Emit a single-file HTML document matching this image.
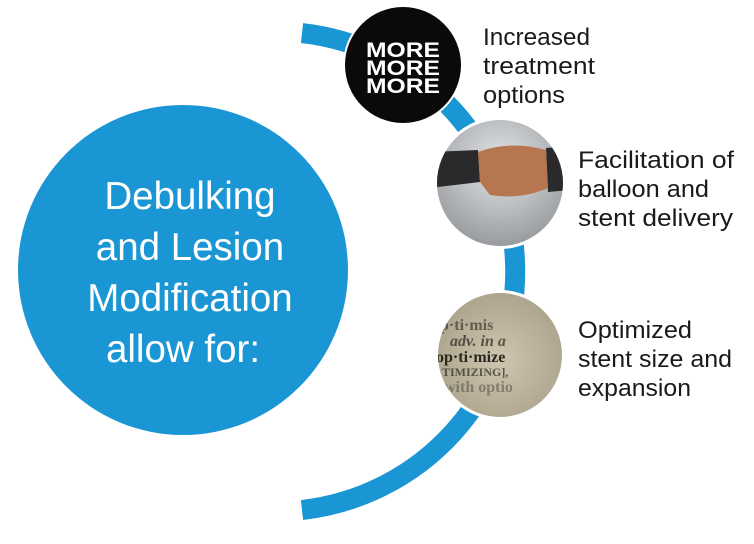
<!DOCTYPE html>
<html><head><meta charset="utf-8"><style>
html,body{margin:0;padding:0;background:#fff;width:754px;height:544px;overflow:hidden}
svg{display:block}
</style></head><body>
<svg width="754" height="544" viewBox="0 0 754 544" xmlns="http://www.w3.org/2000/svg">
<defs>
<radialGradient id="hs" cx="50%" cy="35%" r="70%"><stop offset="0" stop-color="#e4e6e8"/><stop offset="1" stop-color="#8a8d90"/></radialGradient>
<radialGradient id="dc" cx="50%" cy="50%" r="60%"><stop offset="0" stop-color="#cfc6b0"/><stop offset="1" stop-color="#a59c86"/></radialGradient>
<clipPath id="c2"><circle cx="500" cy="183" r="63"/></clipPath>
<clipPath id="c3"><circle cx="500" cy="355" r="62"/></clipPath>
</defs>
<path d="M302 33 A240 240 0 0 1 302 510" fill="none" stroke="#1a96d4" stroke-width="20"/>
<circle cx="183" cy="270" r="165" fill="#1a96d4"/>
<g font-family="Liberation Sans, sans-serif" font-size="38.5" fill="#fff" text-anchor="middle">
<text x="190" y="209">Debulking</text>
<text x="190" y="260">and Lesion</text>
<text x="190" y="311">Modification</text>
<text x="183" y="362">allow for:</text>
</g>
<circle cx="403" cy="65" r="60" fill="#fff"/>
<circle cx="403" cy="65" r="58" fill="#0a0a0a"/>
<g font-family="Liberation Sans, sans-serif" font-weight="bold" font-size="21" fill="#fff" text-anchor="middle">
<text x="403" y="57" textLength="74" lengthAdjust="spacingAndGlyphs">MORE</text>
<text x="403" y="75" textLength="74" lengthAdjust="spacingAndGlyphs">MORE</text>
<text x="403" y="93" textLength="74" lengthAdjust="spacingAndGlyphs">MORE</text>
</g>
<circle cx="500" cy="183" r="66" fill="#fff"/>
<g clip-path="url(#c2)">
<rect x="430" y="115" width="140" height="140" fill="url(#hs)"/>
<path d="M430 152 L478 150 L480 182 L430 188Z" fill="#2a2a2c"/>
<path d="M546 148 L570 146 L570 190 L548 192Z" fill="#2a2a2c"/>
<path d="M478 152 Q510 140 546 150 L548 188 Q520 200 490 195 L480 182Z" fill="#b57650"/>
</g>
<circle cx="500" cy="355" r="65" fill="#fff"/>
<g clip-path="url(#c3)">
<rect x="430" y="290" width="140" height="140" fill="url(#dc)"/>
<g font-family="Liberation Serif, serif" font-weight="bold" fill="#2a2620" font-size="16">
<text x="440" y="330" opacity="0.6">p·ti·mis</text>
<text x="450" y="346" font-style="italic" opacity="0.7">adv. in a</text>
<text x="436" y="362">op·ti·mize</text>
<text x="442" y="376" font-size="12" opacity="0.7">TIMIZING],</text>
<text x="444" y="392" opacity="0.4">with optio</text>
</g>
</g>
<g font-family="Liberation Sans, sans-serif" font-size="24" fill="#1a1a1a">
<text x="483" y="45" textLength="107" lengthAdjust="spacingAndGlyphs">Increased</text>
<text x="483" y="74" textLength="112" lengthAdjust="spacingAndGlyphs">treatment</text>
<text x="483" y="103" textLength="82" lengthAdjust="spacingAndGlyphs">options</text>
<text x="578" y="168" textLength="156" lengthAdjust="spacingAndGlyphs">Facilitation of</text>
<text x="578" y="197" textLength="131" lengthAdjust="spacingAndGlyphs">balloon and</text>
<text x="578" y="226" textLength="155" lengthAdjust="spacingAndGlyphs">stent delivery</text>
<text x="578" y="338" textLength="114" lengthAdjust="spacingAndGlyphs">Optimized</text>
<text x="578" y="367" textLength="154" lengthAdjust="spacingAndGlyphs">stent size and</text>
<text x="578" y="396" textLength="113" lengthAdjust="spacingAndGlyphs">expansion</text>
</g>
</svg>
</body></html>
